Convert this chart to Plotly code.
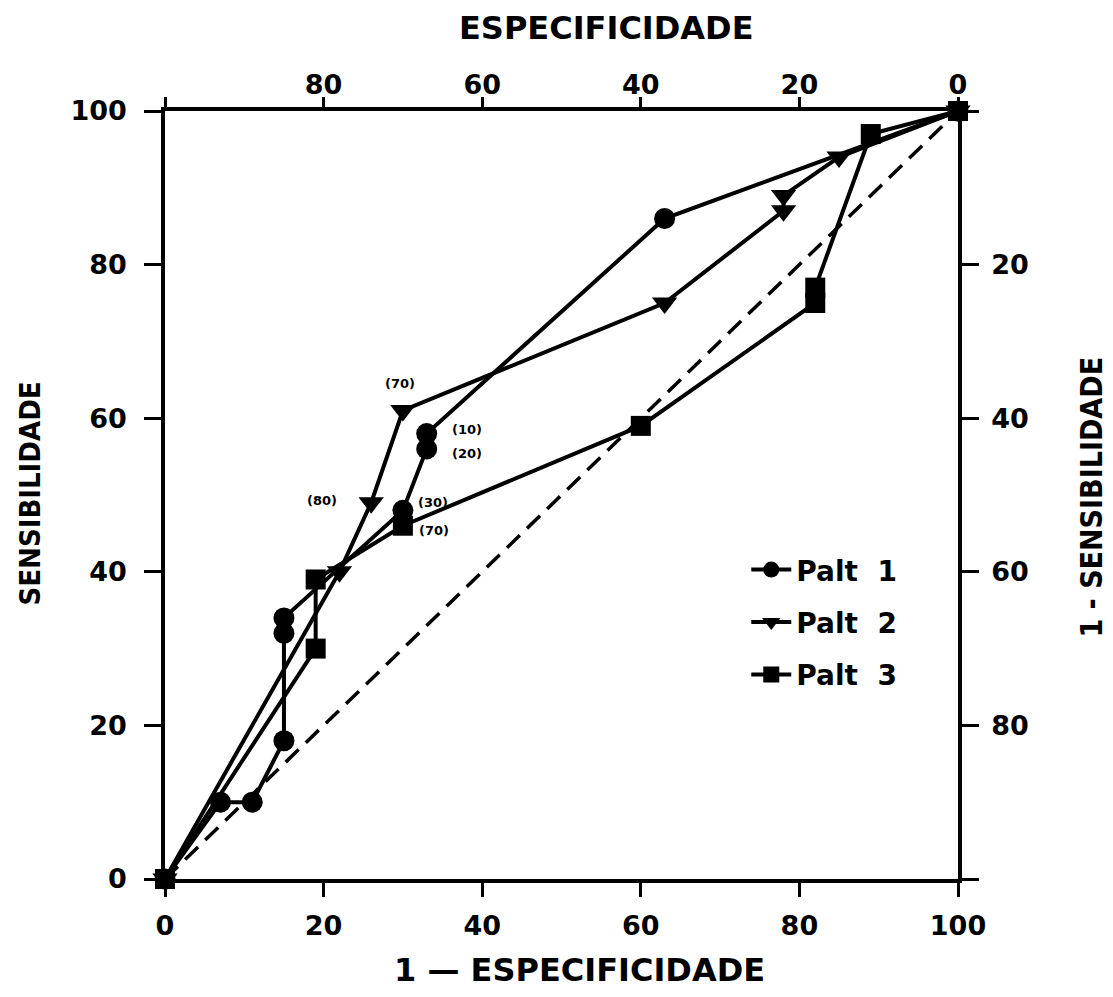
import plotly.graph_objects as go

# ---- data ----
palt1_x = [0, 7, 11, 15, 15, 15, 30, 33, 33, 63, 100]
palt1_y = [0, 10, 10, 18, 32, 34, 48, 56, 58, 86, 100]

palt2_x = [0, 22, 26, 30, 63, 78, 78, 85, 100]
palt2_y = [0, 40, 49, 61, 75, 87, 89, 94, 100]

palt3_x = [0, 19, 19, 30, 60, 82, 82, 89, 100]
palt3_y = [0, 30, 39, 46, 59, 75, 77, 97, 100]

chance_x = [0, 100]
chance_y = [0, 100]

series_names = ["Palt\u00a0\u00a01", "Palt\u00a0\u00a02", "Palt\u00a0\u00a03"]

tick_vals = [0, 20, 40, 60, 80, 100]
bottom_ticktext = ["0", "20", "40", "60", "80", "100"]
left_ticktext = ["0", "20", "40", "60", "80", "100"]
top_ticktext = ["", "80", "60", "40", "20", "0"]      # especificidade
right_ticktext = ["", "80", "60", "40", "20", ""]     # 1 - sensibilidade

# cut-off labels: (text, series, point index, xshift, yshift)
point_labels = [
    ("(70)", 2, 3, -3, 27),
    ("(10)", 1, 8, 40, 4),
    ("(20)", 1, 7, 40, -5),
    ("(80)", 2, 2, -49, 2),
    ("(30)", 1, 6, 30, 8),
    ("(70)", 3, 3, 31, -5),
]

BOLD = "DejaVu Sans"
NARROW = "Liberation Sans Narrow, DejaVu Sans Condensed, sans-serif"

series = {1: (palt1_x, palt1_y), 2: (palt2_x, palt2_y), 3: (palt3_x, palt3_y)}
symbols = {1: "circle", 2: "triangle-down", 3: "square"}
msizes = {1: 21, 2: 22, 3: 20}

fig = go.Figure()

# chance diagonal on the secondary axes (same 0-100 range)
fig.add_trace(go.Scatter(
    x=chance_x, y=chance_y, mode="lines", xaxis="x2", yaxis="y2",
    line=dict(color="black", width=3.5, dash="18px,10px"),
    showlegend=False, hoverinfo="skip"))

for k in (1, 2, 3):
    xs, ys = series[k]
    fig.add_trace(go.Scatter(
        x=xs, y=ys, mode="lines+markers", name=series_names[k - 1],
        legendgroup="g%d" % k,
        line=dict(color="black", width=4),
        marker=dict(symbol=symbols[k], size=msizes[k], color="black"),
        cliponaxis=False))

annotations = []
for text, s, i, dx, dy in point_labels:
    xs, ys = series[s]
    annotations.append(dict(
        x=xs[i], y=ys[i], xref="x", yref="y", text=text, showarrow=False,
        xshift=dx, yshift=dy, xanchor="center", yanchor="middle",
        font=dict(family=BOLD, size=13, color="black", weight="bold")))

# axis titles
annotations += [
    dict(text="ESPECIFICIDADE", xref="paper", yref="paper", x=0.5564, y=1.108,
         xanchor="center", yanchor="middle", showarrow=False,
         font=dict(family=BOLD, size=32, color="black", weight="bold")),
    dict(text="1 \u2014 ESPECIFICIDADE", xref="paper", yref="paper", x=0.5224, y=-0.1185,
         xanchor="center", yanchor="middle", showarrow=False,
         font=dict(family=BOLD, size=32, color="black", weight="bold")),
    dict(text="SENSIBILIDADE", xref="paper", yref="paper", x=-0.1708, y=0.5013,
         xanchor="center", yanchor="middle", showarrow=False, textangle=-90,
         font=dict(family=NARROW, size=29, color="black", weight="bold")),
    dict(text="1 - SENSIBILIDADE", xref="paper", yref="paper", x=1.1685, y=0.4974,
         xanchor="center", yanchor="middle", showarrow=False, textangle=-90,
         font=dict(family=NARROW, size=30, color="black", weight="bold")),
]

tickfont = dict(family=BOLD, size=27, color="black", weight="bold")
axis_common = dict(
    range=[0, 100], tickmode="array", tickvals=tick_vals,
    showgrid=False, zeroline=False, showline=True, linecolor="black",
    linewidth=3.5, ticks="outside", tickwidth=2.5, tickcolor="black",
    tickfont=tickfont)

fig.update_layout(
    width=1113, height=997,
    margin=dict(l=164.5, r=154.5, t=111, b=118, pad=0),
    paper_bgcolor="white", plot_bgcolor="white",
    xaxis=dict(**axis_common, ticktext=bottom_ticktext, side="bottom",
               ticklen=14, ticklabelstandoff=6),
    yaxis=dict(**axis_common, ticktext=left_ticktext, side="left",
               ticklen=17, ticklabelstandoff=12),
    xaxis2=dict(**axis_common, ticktext=top_ticktext, side="top", overlaying="x",
                ticklen=10, ticklabelstandoff=-8),
    yaxis2=dict(**axis_common, ticktext=right_ticktext, side="right", overlaying="y",
                ticklen=17, ticklabelstandoff=7),
    showlegend=True,
    legend=dict(x=0.733, y=0.435, xanchor="left", yanchor="top",
                bgcolor="rgba(0,0,0,0)", borderwidth=0,
                font=dict(family=BOLD, size=28, color="black", weight="bold"),
                itemwidth=40, tracegroupgap=13),
    annotations=annotations,
)

fig.write_html("out.html")
